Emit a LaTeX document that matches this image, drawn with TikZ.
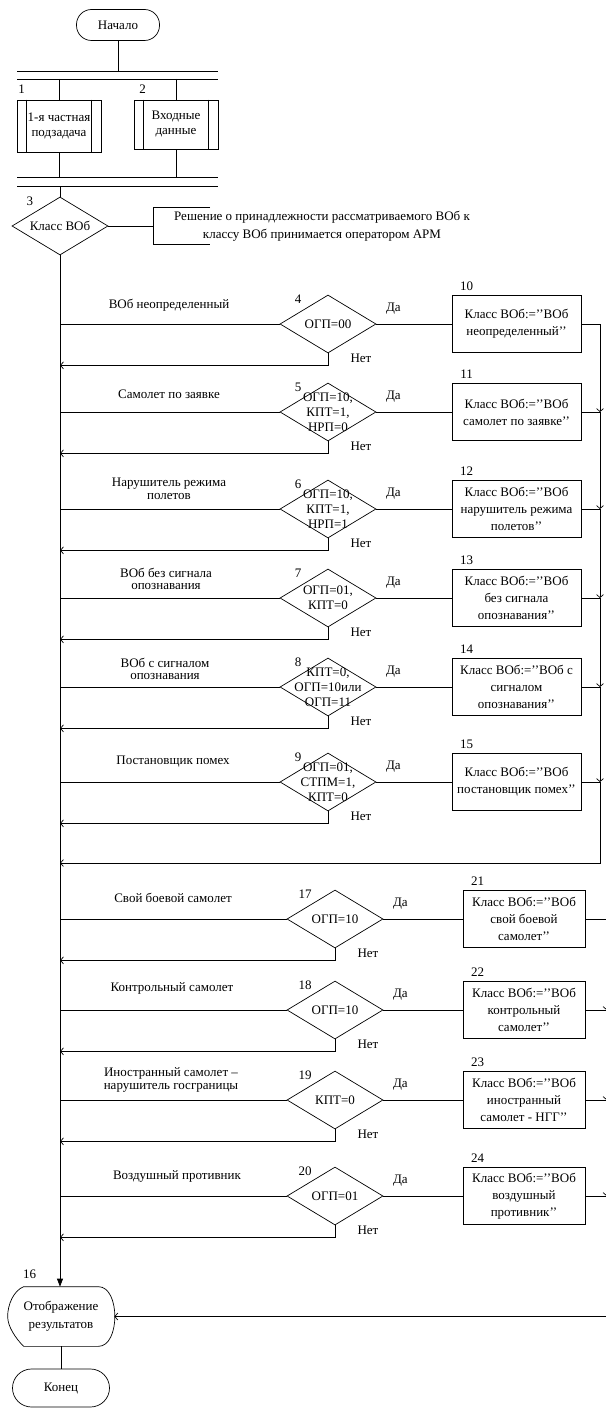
\documentclass[tikz,border=0pt]{standalone}
\usepackage{fontspec}
\setmainfont{Liberation Serif}
\usetikzlibrary{arrows.meta, shapes.geometric, positioning}

\begin{document}
\begin{tikzpicture}[
    x=1pt, y=1pt,
    font=\fontsize{13}{15}\selectfont,
    line width=0.7pt,
    termbox/.style={rectangle, draw, rounded corners=15pt, align=center, minimum width=83pt, minimum height=31pt, inner sep=2pt},
    predef/.style={rectangle, draw, align=center, minimum width=84pt, inner sep=1pt},
    decision/.style={diamond, draw, minimum width=96pt, minimum height=58pt, inner sep=0pt},
    choice/.style={decision, dalbl, netlbl},
    resbox/.style={rectangle, draw, align=center, minimum height=57pt, inner sep=2pt, font=\fontsize{13}{17}\selectfont},
    condtxt/.style={align=center, inner sep=0pt, font=\fontsize{13}{15}\selectfont},
    numlbl/.style={inner sep=0pt},
    cond/.style={label={[condtxt]center:{#1}}},
    dnum/.style={label={[numlbl, anchor=center, xshift=-30pt, yshift=-5pt]north:#1}},
    bnum/.style={label={[numlbl, anchor=center, xshift=15pt, yshift=9pt]north west:#1}},
    dalbl/.style={label={[inner sep=0pt, anchor=center, xshift=17pt, yshift=15pt]east:Да}},
    netlbl/.style={label={[inner sep=0pt, anchor=center, xshift=33pt, yshift=-5pt]south:Нет}},
    rowlbl/.style={align=center, inner sep=0pt, font=\fontsize{13}{12.5}\selectfont},
    flowarr/.style={-{Straight Barb[length=3pt,width=7pt]}},
    spinearr/.style={-{Triangle[length=8pt,width=6pt]}}
]
    \useasboundingbox (0,0) rectangle (605,-1410);

    % Начало и подзадачи
    \node[termbox] (start) at (118,-25) {Начало};

    \coordinate (forka) at (17,-71);
    \coordinate (forkb) at (17,-79);
    \coordinate (joina) at (17,-177);
    \coordinate (joinb) at (17,-186);
    \draw (forka) -- ++(201,0);
    \draw (forkb) -- ++(201,0);
    \draw (joina) -- ++(201,0);
    \draw (joinb) -- ++(201,0);

    \node[predef, minimum height=52pt, label={[numlbl, anchor=center, xshift=5pt, yshift=10pt]north west:1}] (b1) at (59,-126) {1-я частная\\подзадача};
    \node[predef, minimum height=49pt, label={[numlbl, anchor=center, xshift=9pt, yshift=10pt]north west:2}] (b2) at (176,-124.5) {Входные\\данные};
    \draw ([xshift=10pt]b1.north west) -- ([xshift=10pt]b1.south west);
    \draw ([xshift=-10pt]b1.north east) -- ([xshift=-10pt]b1.south east);
    \draw ([xshift=10pt]b2.north west) -- ([xshift=10pt]b2.south west);
    \draw ([xshift=-10pt]b2.north east) -- ([xshift=-10pt]b2.south east);

    \draw (start) -- (start |- forka);
    \draw (b1 |- forkb) -- (b1);
    \draw (b2 |- forkb) -- (b2);
    \draw (b1) -- (b1 |- joina);
    \draw (b2) -- (b2 |- joina);

    % Класс ВОб
    \node[decision, cond={Класс ВОб}, dnum=3] (d3) at (60,-226) {};
    \draw (d3 |- joinb) -- (d3);

    \node[rowlbl, font=\fontsize{13}{18}\selectfont] (note) at (322,-226) {Решение о принадлежности рассматриваемого ВОб к\\классу ВОб принимается оператором АРМ};
    \coordinate (brk) at (153,-226);
    \draw (d3.east) -- (brk);
    \draw ([shift={(57pt,19pt)}]brk) -- ([shift={(0pt,19pt)}]brk) -- ([shift={(0pt,-18pt)}]brk) -- ([shift={(57pt,-18pt)}]brk);

    \coordinate (spine) at (60,-254);

    % Отображение и Конец
    \node[align=center, minimum width=106pt, minimum height=59pt, inner sep=0pt, font=\fontsize{13}{18}\selectfont,
          label={[numlbl, anchor=center, xshift=22pt, yshift=12pt]north west:16}] (res) at (61,-1316.5) {Отображение\\результатов};
    \draw ([xshift=16pt]res.north west) -- ([xshift=-16pt]res.north east)
        .. controls ([xshift=6pt]res.north east) and ([xshift=6pt]res.south east) .. ([xshift=-16pt]res.south east)
        -- ([xshift=16pt]res.south west)
        .. controls ([xshift=8pt,yshift=8pt]res.south west) and ([yshift=-10pt]res.west) .. (res.west)
        .. controls ([yshift=12pt]res.west) and ([xshift=6pt,yshift=-4pt]res.north west) .. cycle;
    \node[termbox, minimum width=97pt, minimum height=38pt, rounded corners=19pt] (stop) at (61,-1388) {Конец};

    \draw[spinearr] (d3.south) -- (d3.south |- res.north);
    \draw (res) -- (stop);

    % Первая группа классов
    \node[rowlbl] (l4) at (169,-305) {ВОб неопределенный};
    \node[choice, cond={ОГП=00}, dnum=4] (d4) at (328,-324) {};
    \node[resbox, minimum width=129pt, bnum=10] (b10) at (516.5,-324) {Класс ВОб:=’’ВОб\\неопределенный’’};

    \node[rowlbl] (l5) at (169,-394) {Самолет по заявке};
    \node[choice, cond={ОГП=10,\\КПТ=1,\\НРП=0}, dnum=5] (d5) at (328,-412) {};
    \node[resbox, minimum width=129pt, bnum=11] (b11) at (516.5,-412) {Класс ВОб:=’’ВОб\\самолет по заявке’’};

    \node[rowlbl] (l6) at (169,-489) {Нарушитель режима\\полетов};
    \node[choice, cond={ОГП=10,\\КПТ=1,\\НРП=1}, dnum=6] (d6) at (328,-509) {};
    \node[resbox, minimum width=129pt, bnum=12] (b12) at (516.5,-509) {Класс ВОб:=’’ВОб\\нарушитель режима\\полетов’’};

    \node[rowlbl] (l7) at (166,-579) {ВОб без сигнала\\опознавания};
    \node[choice, cond={ОГП=01,\\КПТ=0}, dnum=7] (d7) at (328,-598) {};
    \node[resbox, minimum width=129pt, bnum=13] (b13) at (516.5,-598) {Класс ВОб:=’’ВОб\\без сигнала\\опознавания’’};

    \node[rowlbl] (l8) at (165,-669) {ВОб с сигналом\\опознавания};
    \node[choice, cond={КПТ=0,\\ОГП=10или\\ОГП=11}, dnum=8] (d8) at (328,-687) {};
    \node[resbox, minimum width=129pt, bnum=14] (b14) at (516.5,-687) {Класс ВОб:=’’ВОб с\\сигналом\\опознавания’’};

    \node[rowlbl] (l9) at (173,-762) {Постановщик помех};
    \node[choice, cond={ОГП=01,\\СТПМ=1,\\КПТ=0}, dnum=9] (d9) at (328,-782) {};
    \node[resbox, minimum width=129pt, bnum=15] (b15) at (516.5,-782) {Класс ВОб:=’’ВОб\\постановщик помех’’};

    \draw (d4.west -| spine) -- (d4.west);
    \draw (d5.west -| spine) -- (d5.west);
    \draw (d6.west -| spine) -- (d6.west);
    \draw (d7.west -| spine) -- (d7.west);
    \draw (d8.west -| spine) -- (d8.west);
    \draw (d9.west -| spine) -- (d9.west);
    \draw (d4.east) -- (b10.west);
    \draw (d5.east) -- (b11.west);
    \draw (d6.east) -- (b12.west);
    \draw (d7.east) -- (b13.west);
    \draw (d8.east) -- (b14.west);
    \draw (d9.east) -- (b15.west);
    \draw[flowarr] (d4.south) -- ++(0,-12) coordinate (r4) -- (r4 -| spine);
    \draw[flowarr] (d5.south) -- ++(0,-12) coordinate (r5) -- (r5 -| spine);
    \draw[flowarr] (d6.south) -- ++(0,-12) coordinate (r6) -- (r6 -| spine);
    \draw[flowarr] (d7.south) -- ++(0,-12) coordinate (r7) -- (r7 -| spine);
    \draw[flowarr] (d8.south) -- ++(0,-12) coordinate (r8) -- (r8 -| spine);
    \draw[flowarr] (d9.south) -- ++(0,-12) coordinate (r9) -- (r9 -| spine);

    \coordinate (rbus) at (600,-324);
    \draw (b10.east) -- (rbus);
    \draw (b11.east) -- (b11.east -| rbus);
    \draw (b12.east) -- (b12.east -| rbus);
    \draw (b13.east) -- (b13.east -| rbus);
    \draw (b14.east) -- (b14.east -| rbus);
    \draw (b15.east) -- (b15.east -| rbus);
    \draw[flowarr] (rbus) -- (b11.east -| rbus);
    \draw[flowarr] (b11.east -| rbus) -- (b12.east -| rbus);
    \draw[flowarr] (b12.east -| rbus) -- (b13.east -| rbus);
    \draw[flowarr] (b13.east -| rbus) -- (b14.east -| rbus);
    \draw[flowarr] (b14.east -| rbus) -- (b15.east -| rbus);
    \draw[flowarr] (b15.east -| rbus) -- ++(0,-81) coordinate (bigret) -- (bigret -| spine);

    % Вторая группа классов
    \node[rowlbl] (l17) at (173,-898) {Свой боевой самолет};
    \node[choice, cond={ОГП=10}, dnum=17] (d17) at (335,-919) {};
    \node[resbox, minimum width=122pt, bnum=21] (b21) at (524,-919) {Класс ВОб:=’’ВОб\\свой боевой\\самолет’’};

    \node[rowlbl] (l18) at (172,-988) {Контрольный самолет};
    \node[choice, cond={ОГП=10}, dnum=18] (d18) at (335,-1010) {};
    \node[resbox, minimum width=122pt, bnum=22] (b22) at (524,-1010) {Класс ВОб:=’’ВОб\\контрольный\\самолет’’};

    \node[rowlbl] (l19) at (171,-1080) {Иностранный самолет –\\нарушитель госграницы};
    \node[choice, cond={КПТ=0}, dnum=19] (d19) at (335,-1100) {};
    \node[resbox, minimum width=122pt, bnum=23] (b23) at (524,-1100) {Класс ВОб:=’’ВОб\\иностранный\\самолет - НГГ’’};

    \node[rowlbl] (l20) at (177,-1176) {Воздушный противник};
    \node[choice, cond={ОГП=01}, dnum=20] (d20) at (335,-1196) {};
    \node[resbox, minimum width=122pt, bnum=24] (b24) at (524,-1196) {Класс ВОб:=’’ВОб\\воздушный\\противник’’};

    \draw (d17.west -| spine) -- (d17.west);
    \draw (d18.west -| spine) -- (d18.west);
    \draw (d19.west -| spine) -- (d19.west);
    \draw (d20.west -| spine) -- (d20.west);
    \draw (d17.east) -- (b21.west);
    \draw (d18.east) -- (b22.west);
    \draw (d19.east) -- (b23.west);
    \draw (d20.east) -- (b24.west);
    \draw[flowarr] (d17.south) -- ++(0,-12) coordinate (r17) -- (r17 -| spine);
    \draw[flowarr] (d18.south) -- ++(0,-12) coordinate (r18) -- (r18 -| spine);
    \draw[flowarr] (d19.south) -- ++(0,-12) coordinate (r19) -- (r19 -| spine);
    \draw[flowarr] (d20.south) -- ++(0,-12) coordinate (r20) -- (r20 -| spine);

    \coordinate (lbus) at (606.5,-919);
    \draw (b21.east) -- (lbus);
    \draw (b22.east) -- (b22.east -| lbus);
    \draw (b23.east) -- (b23.east -| lbus);
    \draw (b24.east) -- (b24.east -| lbus);
    \draw[flowarr] (lbus) -- (b22.east -| lbus);
    \draw[flowarr] (b22.east -| lbus) -- (b23.east -| lbus);
    \draw[flowarr] (b23.east -| lbus) -- (b24.east -| lbus);
    \draw[flowarr] (b24.east -| lbus) -- (lbus |- res.east) -- (res.east);

\end{tikzpicture}
\end{document}
